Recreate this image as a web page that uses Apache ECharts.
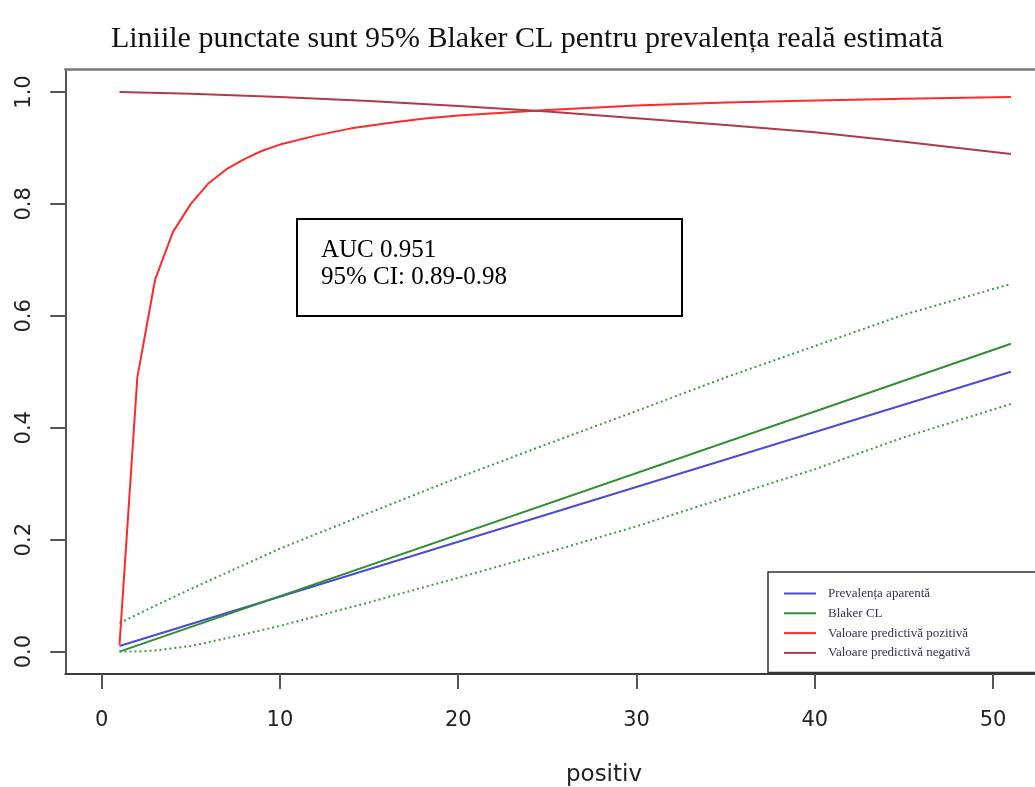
<!DOCTYPE html>
<html>
<head>
<meta charset="utf-8">
<script src="https://cdn.jsdelivr.net/npm/echarts@6/dist/echarts.min.js"></script>
<style>html,body{margin:0;padding:0;background:#fff;overflow:hidden}#c{width:1035px;height:787px}</style>
</head>
<body>
<div id="c"></div>
<script>
// ---- data ----
const titleText = 'Liniile punctate sunt 95% Blaker CL pentru prevalența reală estimată';
const xTicks = [0, 10, 20, 30, 40, 50];
const yTicks = [0, 0.2, 0.4, 0.6, 0.8, 1.0];
const legendNames = ['Prevalența aparentă', 'Blaker CL', 'Valoare predictivă pozitivă', 'Valoare predictivă negativă'];

const apX = [1, 51];
const apY = [0.010, 0.500];

const tpX = [1, 51];
const tpY = [0.000, 0.550];

const upX = [1, 3, 5, 10, 15, 20, 25, 30, 35, 40, 45, 51];
const upY = [0.051, 0.082, 0.112, 0.184, 0.248, 0.311, 0.371, 0.430, 0.490, 0.546, 0.602, 0.657];

const loX = [1, 2, 3, 5, 8, 10, 15, 20, 25, 30, 35, 40, 45, 51];
const loY = [0.000, 0.000, 0.002, 0.010, 0.031, 0.046, 0.088, 0.132, 0.177, 0.224, 0.275, 0.326, 0.383, 0.4425];

const ppvX = [1, 2, 3, 4, 5, 6, 7, 8, 9, 10, 12, 14, 16, 18, 20, 25, 30, 35, 40, 45, 51];
const ppvY = [0.012, 0.490, 0.665, 0.750, 0.800, 0.837, 0.862, 0.880, 0.895, 0.906, 0.922, 0.935, 0.944, 0.952, 0.958, 0.968, 0.976, 0.981, 0.985, 0.988, 0.991];

const npvX = [1, 5, 10, 15, 20, 25, 30, 35, 40, 45, 51];
const npvY = [1.000, 0.997, 0.991, 0.984, 0.975, 0.965, 0.953, 0.941, 0.928, 0.911, 0.889];

const aucLines = ['AUC 0.951', '95% CI: 0.89-0.98'];
const xName = 'positiv';

// ---- build ----
const pairs = (xs, ys) => xs.map((x, i) => [x, ys[i]]);
const colors = { ap: '#4b4bd6', tp: '#2f8f2f', ci: '#3f9a3f', ppv: '#ff2a2a', npv: '#b23a48' };

const chart = echarts.init(document.getElementById('c'), null, { renderer: 'canvas' });
const lineSeries = (name, xs, ys, color, type, width) => ({
  name, type: 'line', data: pairs(xs, ys), symbol: 'none', smooth: false,
  lineStyle: { color, width, type }, itemStyle: { color }, z: 3, silent: true
});

const X_MIN = -2.04, X_MAX = 52.35, Y_MIN = -0.04, Y_MAX = 1.04;

chart.setOption({
  animation: false,
  backgroundColor: '#fff',
  title: {
    text: titleText, left: 522, top: 19, textAlign: 'center',
    textStyle: { fontFamily: 'Liberation Serif', fontSize: 30, fontWeight: 'normal', color: '#111' }
  },
  grid: { left: 65.3, top: 69.6, width: 969.7, height: 604.4, show: false },
  xAxis: [{
    type: 'value', min: X_MIN, max: X_MAX, position: 'bottom',
    splitLine: { show: false },
    axisLine: { show: true, onZero: false, lineStyle: { color: '#3a3a3a', width: 2 } },
    axisTick: { show: true, length: 15, customValues: xTicks, lineStyle: { color: '#555', width: 2 } },
    axisLabel: { customValues: xTicks, margin: 36, fontFamily: 'DejaVu Sans', fontSize: 21, color: '#222' }
  }, {
    type: 'value', min: X_MIN, max: X_MAX, position: 'top',
    splitLine: { show: false }, axisTick: { show: false }, axisLabel: { show: false },
    axisLine: { show: true, onZero: false, lineStyle: { color: '#7a7a7a', width: 2.5 } }
  }],
  yAxis: {
    type: 'value', min: Y_MIN, max: Y_MAX,
    splitLine: { show: false },
    axisLine: { show: true, onZero: false, lineStyle: { color: '#555', width: 2 } },
    axisTick: { show: true, length: 15, customValues: yTicks, lineStyle: { color: '#555', width: 2 } },
    axisLabel: { customValues: yTicks, margin: 30, rotate: 90, fontFamily: 'DejaVu Sans', fontSize: 21, color: '#222',
      formatter: v => v.toFixed(1) }
  },
  legend: {
    data: legendNames, orient: 'vertical', left: 768, top: 572,
    backgroundColor: '#fff', borderColor: '#333', borderWidth: 1.5,
    padding: [15, 90, 13, 15], itemGap: 6.8, itemWidth: 32, itemHeight: 14,
    itemStyle: { opacity: 0 },
    textStyle: { fontFamily: 'Liberation Serif', fontSize: 13, color: '#33334d', padding: [0, 0, 0, 7] }
  },
  graphic: [
    { type: 'rect', shape: { x: 297, y: 219, width: 385, height: 97 }, style: { fill: '#fff', stroke: '#000', lineWidth: 2 }, z: 10 },
    { type: 'text', x: 321, y: 238, style: { text: aucLines[0], font: '25px "Liberation Serif"', fill: '#000' }, z: 11 },
    { type: 'text', x: 321, y: 265, style: { text: aucLines[1], font: '25px "Liberation Serif"', fill: '#000' }, z: 11 },
    { type: 'text', x: 604, y: 775, style: { text: xName, font: '23px "DejaVu Sans"', fill: '#222', textAlign: 'center', textVerticalAlign: 'middle' }, z: 11 }
  ],
  series: [
    lineSeries(legendNames[0], apX, apY, colors.ap, 'solid', 2),
    lineSeries(legendNames[1], tpX, tpY, colors.tp, 'solid', 2),
    lineSeries('upper', upX, upY, colors.ci, [2, 3], 2),
    lineSeries('lower', loX, loY, colors.ci, [2, 3], 2),
    lineSeries(legendNames[2], ppvX, ppvY, colors.ppv, 'solid', 2),
    lineSeries(legendNames[3], npvX, npvY, colors.npv, 'solid', 2)
  ]
});
</script>
</body>
</html>
